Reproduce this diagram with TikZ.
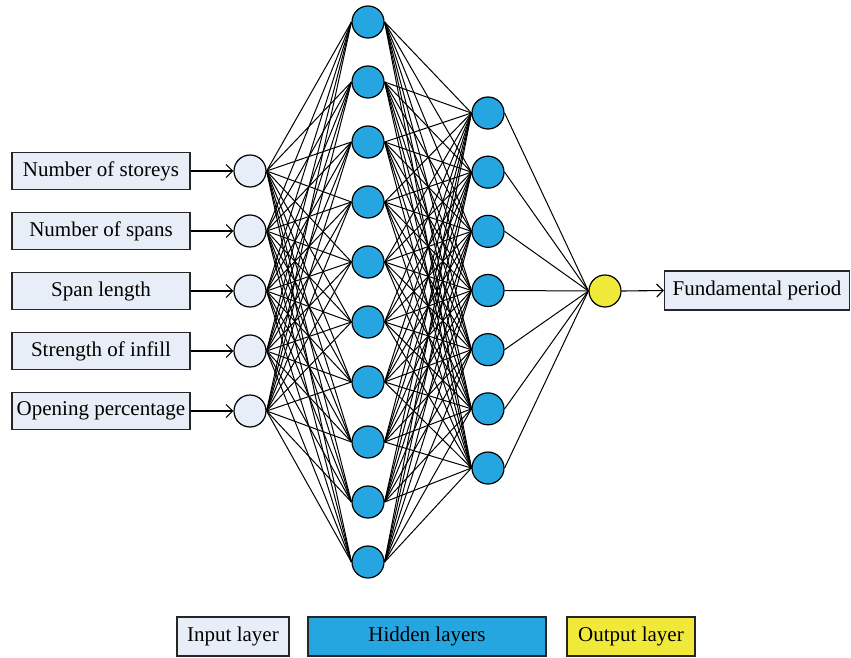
\documentclass[tikz,border=0pt]{standalone}
\usepackage{fontspec}
\setmainfont{Liberation Serif}
\usetikzlibrary{arrows.meta}
\definecolor{inpc}{RGB}{232,238,247}
\definecolor{hidc}{RGB}{38,166,224}
\definecolor{outc}{RGB}{240,233,58}
\begin{document}
\begin{tikzpicture}[x=1pt,y=-1pt,
 neuron/.style={circle,draw=black,line width=1.2pt,minimum size=32pt,inner sep=0pt},
 inneuron/.style={neuron,fill=inpc},
 hidneuron/.style={neuron,fill=hidc},
 outneuron/.style={neuron,fill=outc},
 labelbox/.style={draw=black!85,line width=1.2pt,fill=inpc,minimum height=37pt,inner sep=0pt,font=\fontsize{21}{25}\selectfont},
 legbox/.style={draw=black!85,line width=1.2pt,minimum height=39pt,inner sep=0pt,font=\fontsize{21}{25}\selectfont},
 conn/.style={line width=1pt},
 feed/.style={line width=1.1pt,-{Straight Barb[length=6.5pt,width=13pt]}}
]
\useasboundingbox (0,0) rectangle (851,658);
% input label boxes
\foreach \t [count=\k] in {Number of storeys,Number of spans,Span length,Strength of infill,Opening percentage}{
  \node[labelbox,minimum width=178pt] (lab\k) at (101,{111+60*\k}) {\t};
  \node[inneuron] (in\k) at (250,{111+60*\k}) {};
}
% hidden layer 1
\foreach \k in {1,...,10}{
  \node[hidneuron] (h\k) at (368,{22+60*(\k-1)}) {};
}
% hidden layer 2
\foreach \k in {1,...,7}{
  \node[hidneuron] (g\k) at (488,{113+59.17*(\k-1)}) {};
}
% output
\node[outneuron] (out) at (605,291) {};
\node[labelbox,minimum width=185pt,minimum height=39pt] (outlab) at (757,290.5) {Fundamental period};
% connections
\foreach \i in {1,...,5}{
  \foreach \j in {1,...,10}{
    \draw[conn] (in\i.east) -- (h\j.west);
  }
}
\foreach \i in {1,...,10}{
  \foreach \j in {1,...,7}{
    \draw[conn] (h\i.east) -- (g\j.west);
  }
}
\foreach \j in {1,...,7}{
  \draw[conn] (g\j.east) -- (out.west);
}
\foreach \k in {1,...,5}{
  \draw[feed] (lab\k.east) -- (in\k.west);
}
\draw[feed] (out.east) -- (outlab.west);
% legend
\node[legbox,fill=inpc,minimum width=112pt] (legin) at (233,636.5) {Input layer};
\node[legbox,fill=hidc,minimum width=238pt] (leghid) at (427,636.5) {Hidden layers};
\node[legbox,fill=outc,minimum width=128pt] (legout) at (631,636.5) {Output layer};
\end{tikzpicture}
\end{document}
